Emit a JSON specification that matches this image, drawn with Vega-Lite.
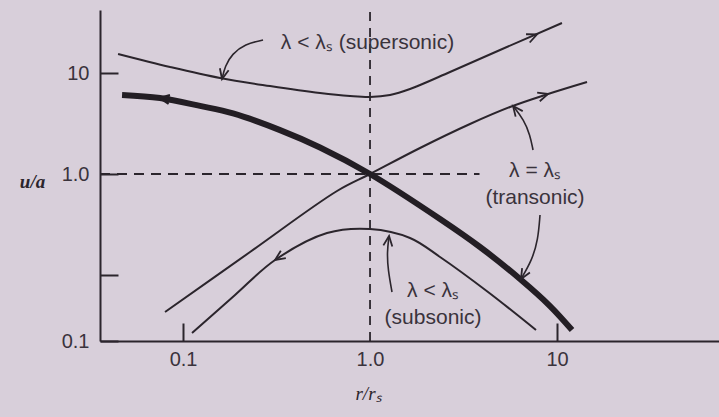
{
  "$schema": "https://vega.github.io/schema/vega-lite/v6.json",
  "autosize": "none",
  "width": 619,
  "height": 331,
  "padding": {"left": 100, "top": 10, "right": 0, "bottom": 76},
  "background": "#d8cfda",
  "config": {
    "view": {"stroke": null},
    "text": {"font": "Liberation Sans", "fontSize": 21, "color": "#3a333c"}
  },
  "datasets": {
    "curves": [
      {"curve": "supersonic", "r": 0.04493, "ua": 15.42},
      {"curve": "supersonic", "r": 0.0852, "ua": 11.47},
      {"curve": "supersonic", "r": 0.1577, "ua": 8.92},
      {"curve": "supersonic", "r": 0.2918, "ua": 7.43},
      {"curve": "supersonic", "r": 0.5402, "ua": 6.34},
      {"curve": "supersonic", "r": 0.7818, "ua": 5.92},
      {"curve": "supersonic", "r": 1.0, "ua": 5.79},
      {"curve": "supersonic", "r": 1.279, "ua": 6.06},
      {"curve": "supersonic", "r": 1.636, "ua": 6.94},
      {"curve": "supersonic", "r": 2.678, "ua": 10.23},
      {"curve": "supersonic", "r": 4.957, "ua": 16.9},
      {"curve": "supersonic", "r": 10.63, "ua": 31.3},
      {"curve": "transonic accretion", "r": 0.04719, "ua": 6.06},
      {"curve": "transonic accretion", "r": 0.0753, "ua": 5.65},
      {"curve": "transonic accretion", "r": 0.1233, "ua": 4.72},
      {"curve": "transonic accretion", "r": 0.1851, "ua": 3.98},
      {"curve": "transonic accretion", "r": 0.3302, "ua": 2.72},
      {"curve": "transonic accretion", "r": 0.5402, "ua": 1.83},
      {"curve": "transonic accretion", "r": 1.0, "ua": 1.0},
      {"curve": "transonic accretion", "r": 2.368, "ua": 0.3584},
      {"curve": "transonic accretion", "r": 3.874, "ua": 0.1893},
      {"curve": "transonic accretion", "r": 6.341, "ua": 0.0913},
      {"curve": "transonic accretion", "r": 9.175, "ua": 0.04931},
      {"curve": "transonic accretion", "r": 12.03, "ua": 0.02853},
      {"curve": "transonic wind", "r": 0.0801, "ua": 0.04302},
      {"curve": "transonic wind", "r": 0.2282, "ua": 0.1689},
      {"curve": "transonic wind", "r": 0.6661, "ua": 0.6785},
      {"curve": "transonic wind", "r": 1.0, "ua": 1.0},
      {"curve": "transonic wind", "r": 1.851, "ua": 1.809},
      {"curve": "transonic wind", "r": 3.425, "ua": 3.126},
      {"curve": "transonic wind", "r": 5.607, "ua": 4.608},
      {"curve": "transonic wind", "r": 8.953, "ua": 6.197},
      {"curve": "transonic wind", "r": 14.47, "ua": 8.147},
      {"curve": "subsonic", "r": 0.1117, "ua": 0.02665},
      {"curve": "subsonic", "r": 0.1897, "ua": 0.0634},
      {"curve": "subsonic", "r": 0.3105, "ua": 0.1408},
      {"curve": "subsonic", "r": 0.5888, "ua": 0.2604},
      {"curve": "subsonic", "r": 1.0, "ua": 0.2853},
      {"curve": "subsonic", "r": 1.636, "ua": 0.2325},
      {"curve": "subsonic", "r": 2.368, "ua": 0.1508},
      {"curve": "subsonic", "r": 4.276, "ua": 0.0679},
      {"curve": "subsonic", "r": 7.72, "ua": 0.02853}
    ],
    "heads": [
      {"on": "supersonic", "r": 7.816, "ua": 24.17, "dir": -24},
      {"on": "transonic accretion", "r": 0.0753, "ua": 5.65, "dir": 189},
      {"on": "transonic wind", "r": 8.953, "ua": 6.197, "dir": -17},
      {"on": "subsonic", "r": 0.3105, "ua": 0.1408, "dir": 146},
      {"on": "pointer supersonic", "r": 0.1616, "ua": 8.72, "dir": 103},
      {"on": "pointer transonic wind", "r": 5.817, "ua": 4.714, "dir": 232},
      {"on": "pointer transonic accretion", "r": 6.419, "ua": 0.0913, "dir": 120},
      {"on": "pointer subsonic", "r": 1.264, "ua": 0.2433, "dir": 277}
    ],
    "pointers": [
      {"id": "supersonic", "i": 0, "r": 0.2678, "ua": 21.22},
      {"id": "supersonic", "i": 1, "r": 0.2146, "ua": 19.37},
      {"id": "supersonic", "i": 2, "r": 0.1828, "ua": 15.42},
      {"id": "supersonic", "i": 3, "r": 0.1677, "ua": 11.73},
      {"id": "supersonic", "i": 4, "r": 0.1616, "ua": 8.72},
      {"id": "transonic wind", "i": 0, "r": 7.442, "ua": 1.729},
      {"id": "transonic wind", "i": 1, "r": 7.172, "ua": 2.433},
      {"id": "transonic wind", "i": 2, "r": 6.659, "ua": 3.424},
      {"id": "transonic wind", "i": 3, "r": 5.817, "ua": 4.714},
      {"id": "transonic accretion", "i": 0, "r": 8.111, "ua": 0.3926},
      {"id": "transonic accretion", "i": 1, "r": 7.913, "ua": 0.2221},
      {"id": "transonic accretion", "i": 2, "r": 7.349, "ua": 0.1408},
      {"id": "transonic accretion", "i": 3, "r": 6.419, "ua": 0.0913},
      {"id": "subsonic", "i": 0, "r": 1.311, "ua": 0.0679},
      {"id": "subsonic", "i": 1, "r": 1.248, "ua": 0.1121},
      {"id": "subsonic", "i": 2, "r": 1.233, "ua": 0.1689},
      {"id": "subsonic", "i": 3, "r": 1.264, "ua": 0.2433}
    ],
    "notes": [
      {"label": "λ < λₛ (supersonic)", "r": 0.9697, "ua": 19.82},
      {"label": "λ = λₛ", "r": 7.627, "ua": 1.071},
      {"label": "(transonic)", "r": 7.627, "ua": 0.578},
      {"label": "λ < λₛ", "r": 2.173, "ua": 0.0694},
      {"label": "(subsonic)", "r": 2.173, "ua": 0.0375}
    ],
    "guides": [
      {"guide": "sonic radius", "r": 1.0, "ua": 0.02221, "ua2": 42.06},
      {"guide": "sonic speed", "r": 0.03597, "r2": 3.85, "ua": 1.0}
    ]
  },
  "encoding": {
    "x": {
      "field": "r",
      "type": "quantitative",
      "scale": {"type": "log", "domain": [0.03597, 73.5], "nice": false, "zero": false},
      "axis": {
        "values": [0.1, 1, 10],
        "labelExpr": "datum.value < 0.5 ? '0.1' : datum.value < 5 ? '1.0' : '10'",
        "grid": false,
        "domainColor": "#2b252c",
        "domainWidth": 2,
        "tickSize": -18,
        "tickWidth": 2,
        "tickColor": {"condition": {"test": "datum.value == 1", "value": "transparent"}, "value": "#2b252c"},
        "labelPadding": 26,
        "labelFont": "Liberation Sans",
        "labelFontSize": 20,
        "labelColor": "#3a333c",
        "labelFlush": false,
        "labelOverlap": false,
        "title": "r/rₛ",
        "titleFont": "Liberation Serif",
        "titleFontStyle": "italic",
        "titleFontWeight": "normal",
        "titleFontSize": 19,
        "titleColor": "#2b252c",
        "titleAlign": "center",
        "titleBaseline": "middle",
        "titleX": 268,
        "titleY": 52
      }
    },
    "y": {
      "field": "ua",
      "type": "quantitative",
      "scale": {"type": "log", "domain": [0.02221, 42.06], "nice": false, "zero": false},
      "axis": {
        "values": [0.02221, 0.1, 1, 10],
        "labelExpr": "datum.value > 5 ? '10' : datum.value > 0.5 ? '1.0' : datum.value < 0.05 ? '0.1' : ''",
        "grid": false,
        "domainColor": "#2b252c",
        "domainWidth": 2,
        "tickSize": -18,
        "tickWidth": 2,
        "tickColor": "#2b252c",
        "labelPadding": 29,
        "labelFont": "Liberation Sans",
        "labelFontSize": 20,
        "labelColor": "#3a333c",
        "labelFlush": false,
        "labelOverlap": false,
        "title": "u/a",
        "titleFont": "Liberation Serif",
        "titleFontStyle": "italic",
        "titleFontWeight": "bold",
        "titleFontSize": 19,
        "titleColor": "#2b252c",
        "titleAngle": 0,
        "titleAlign": "center",
        "titleBaseline": "middle",
        "titleX": -68,
        "titleY": 171
      }
    }
  },
  "layer": [
    {
      "data": {"name": "guides"},
      "transform": [{"filter": "datum.guide == 'sonic radius'"}],
      "mark": {"type": "rule", "strokeDash": [9, 7], "strokeWidth": 1.8, "color": "#2b252c"},
      "encoding": {"y2": {"field": "ua2"}}
    },
    {
      "data": {"name": "guides"},
      "transform": [{"filter": "datum.guide == 'sonic speed'"}],
      "mark": {"type": "rule", "strokeDash": [10, 7], "strokeWidth": 1.8, "color": "#2b252c"},
      "encoding": {"x2": {"field": "r2"}}
    },
    {
      "data": {"name": "curves"},
      "transform": [{"filter": "datum.curve != 'transonic accretion'"}],
      "mark": {"type": "line", "interpolate": "catmull-rom", "strokeWidth": 2, "color": "#2b252c"},
      "encoding": {"detail": {"field": "curve"}}
    },
    {
      "data": {"name": "curves"},
      "transform": [{"filter": "datum.curve == 'transonic accretion'"}],
      "mark": {"type": "line", "interpolate": "catmull-rom", "strokeWidth": 6, "strokeCap": "butt", "color": "#231e24"},
      "encoding": {}
    },
    {
      "data": {"name": "pointers"},
      "mark": {"type": "line", "interpolate": "basis", "strokeWidth": 1.6, "color": "#2b252c"},
      "encoding": {"detail": {"field": "id"}, "order": {"field": "i"}}
    },
    {
      "data": {"name": "heads"},
      "transform": [{"filter": "datum.on != 'transonic accretion'"}],
      "mark": {"type": "point", "shape": "M-2,-0.9L0,0L-2,0.9", "filled": false, "size": 100, "strokeWidth": 1.8, "color": "#2b252c", "opacity": 1},
      "encoding": {"angle": {"field": "dir", "type": "quantitative", "scale": null}}
    },
    {
      "data": {"name": "heads"},
      "transform": [{"filter": "datum.on == 'transonic accretion'"}],
      "mark": {"type": "point", "shape": "M-2,-0.9L0,0L-2,0.9", "filled": false, "size": 90, "strokeWidth": 2.5, "color": "#231e24", "opacity": 1},
      "encoding": {"angle": {"field": "dir", "type": "quantitative", "scale": null}}
    },
    {
      "data": {"name": "notes"},
      "mark": {"type": "text", "align": "center", "baseline": "middle"},
      "encoding": {"text": {"field": "label"}}
    }
  ]
}
